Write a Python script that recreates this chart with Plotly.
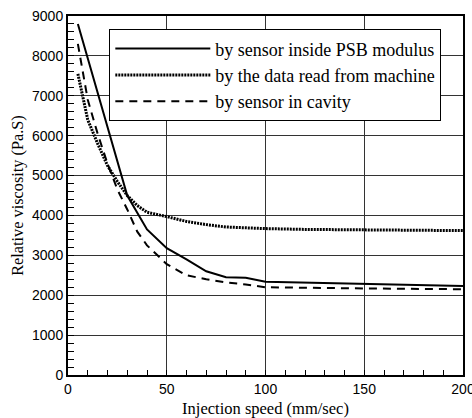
import plotly.graph_objects as go

x_psb = [5, 30, 40, 50, 60, 70, 80, 90, 100, 150, 200]
y_psb = [8800, 4500, 3650, 3180, 2900, 2600, 2450, 2440, 2340, 2280, 2230]

x_mach = [5, 10, 15, 20, 25, 30, 35, 40, 50, 60, 70, 80, 90, 100, 120, 150, 200]
y_mach = [7550, 6400, 5800, 5250, 4850, 4500, 4250, 4080, 3970, 3850, 3770, 3710, 3690, 3670, 3650, 3640, 3620]

x_cav = [5, 10, 15, 20, 25, 30, 35, 40, 50, 60, 70, 80, 90, 100, 150, 200]
y_cav = [8300, 6900, 6050, 5300, 4650, 4150, 3600, 3250, 2780, 2500, 2400, 2320, 2270, 2200, 2170, 2150]

names = ["by sensor inside PSB modulus", "by the data read from machine", "by sensor in cavity"]

SERIF = "Liberation Serif"
SANS = "Liberation Sans"

fig = go.Figure()
fig.add_trace(go.Scatter(x=x_psb, y=y_psb, mode="lines", name=names[0],
                         line=dict(color="black", width=2)))
fig.add_trace(go.Scatter(x=x_mach, y=y_mach, mode="lines", name=names[1],
                         line=dict(color="black", width=3, dash="2px,1px")))
fig.add_trace(go.Scatter(x=x_cav, y=y_cav, mode="lines", name=names[2],
                         line=dict(color="black", width=2, dash="8px,6px")))

fig.update_layout(
    width=472, height=418,
    margin=dict(l=68, r=9, t=16, b=43),
    plot_bgcolor="white", paper_bgcolor="white",
    font=dict(family=SERIF, color="black"),
    showlegend=True,
    legend=dict(x=0.1046, y=0.963, xanchor="left", yanchor="top",
                bgcolor="white", bordercolor="black", borderwidth=1,
                font=dict(family=SERIF, size=18, color="black"),
                itemwidth=95, tracegroupgap=0),
)
fig.update_xaxes(range=[0, 200], dtick=50, automargin=False, ticklabeloverflow="allow",
                 ticks="inside", ticklen=5, tickcolor="black", tickwidth=1,
                 minor=dict(dtick=10, ticks="inside", ticklen=5, tickcolor="black"),
                 showgrid=True, gridcolor="#333333", gridwidth=1,
                 showline=True, linecolor="black", linewidth=2, mirror=True,
                 zeroline=False,
                 tickfont=dict(family=SANS, size=14, color="black"),
                 title=dict(text="Injection speed (mm/sec)", standoff=10,
                            font=dict(family=SERIF, size=16.5, color="black")))
fig.update_yaxes(range=[0, 9000], dtick=1000, automargin=False,
                 ticks="inside", ticklen=6, tickcolor="black", tickwidth=1,
                 minor=dict(dtick=200, ticks="inside", ticklen=6, tickcolor="black"),
                 showgrid=True, gridcolor="#333333", gridwidth=1,
                 showline=True, linecolor="black", linewidth=2, mirror=True,
                 zeroline=False,
                 tickfont=dict(family=SANS, size=14, color="black"),
                 title=dict(text="Relative viscosity (Pa.S)", standoff=4,
                            font=dict(family=SERIF, size=16.3, color="black")))

fig.write_html("out.html", config={"displayModeBar": False},
               post_script="document.body.style.margin='0';document.body.style.overflow='hidden';")
